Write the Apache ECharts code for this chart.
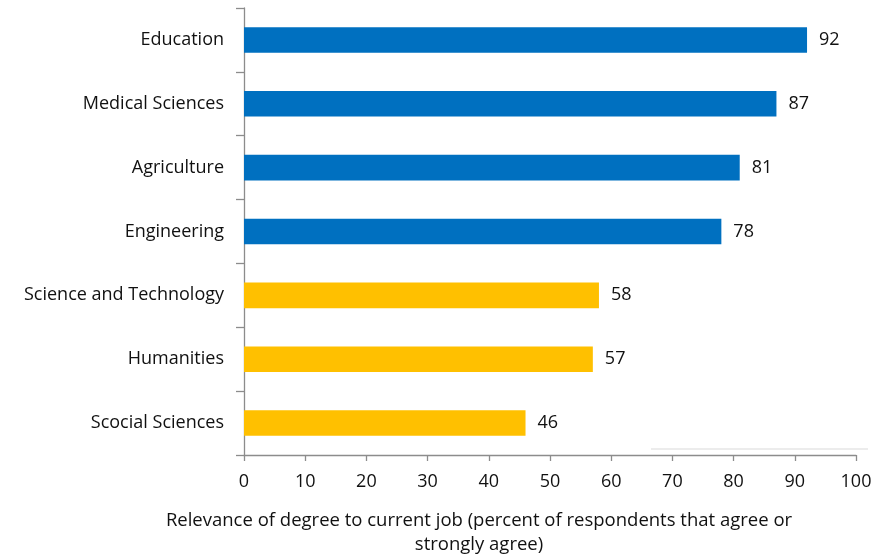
<!DOCTYPE html>
<html>
<head>
<meta charset="utf-8">
<script src="https://cdn.jsdelivr.net/npm/echarts@6/dist/echarts.min.js"></script>
<style>
  html, body { margin: 0; padding: 0; background: #fff; }
  #chart { width: 894px; height: 556px; }
</style>
</head>
<body>
<div id="chart"></div>
<script>
// Fields of study, listed bottom to top as drawn on the category axis
const fields = ['Scocial Sciences', 'Humanities', 'Science and Technology', 'Engineering', 'Agriculture', 'Medical Sciences', 'Education'];
// Percent of respondents that agree or strongly agree
const relevance = [46, 57, 58, 78, 81, 87, 92];
// Group per field: 'high' fields drawn in blue, 'low' in amber
const groups = ['low', 'low', 'low', 'high', 'high', 'high', 'high'];
const xTicks = [0, 10, 20, 30, 40, 50, 60, 70, 80, 90, 100];

const groupColors = { high: '#0070C0', low: '#FFC000' };
const font = '"Open Sans", Lato, sans-serif';

const chart = echarts.init(document.getElementById('chart'));
chart.setOption({
  animation: false,
  backgroundColor: '#ffffff',
  grid: { left: 244, right: 38, top: 8, bottom: 101, containLabel: false },
  xAxis: {
    type: 'value',
    min: xTicks[0],
    max: xTicks[xTicks.length - 1],
    interval: 10,
    axisLine: { show: true, lineStyle: { color: '#8c8c8c', width: 1.3 } },
    axisTick: { show: true, length: 6, lineStyle: { color: '#8c8c8c', width: 1.3 } },
    splitLine: { show: false },
    axisLabel: { color: '#111', fontFamily: font, fontSize: 18, margin: 18 }
  },
  yAxis: {
    type: 'category',
    data: fields,
    axisLine: { show: true, lineStyle: { color: '#8c8c8c', width: 1.3 } },
    axisTick: { show: true, length: 8, alignWithLabel: false, lineStyle: { color: '#8c8c8c', width: 1.3 } },
    axisLabel: { color: '#111', fontFamily: font, fontSize: 18, margin: 20, padding: [6, 0, 0, 0] }
  },
  series: [{
    type: 'bar',
    barWidth: '40%',
    data: relevance.map((v, i) => ({ value: v, itemStyle: { color: groupColors[groups[i]] } })),
    label: {
      show: true,
      position: 'right',
      distance: 12,
      color: '#111',
      fontFamily: font,
      fontSize: 18,
      padding: [7, 0, 0, 0]
    }
  }],
  graphic: [
    {
      type: 'line',
      shape: { x1: 651, y1: 449, x2: 868, y2: 449 },
      style: { stroke: '#e6e6e6', lineWidth: 1.5 }
    },
    {
      type: 'text',
      x: 479,
      y: 509,
      style: {
        text: 'Relevance of degree to current job (percent of respondents that agree or\nstrongly agree)',
        fontFamily: font,
        fontSize: 18.5,
        lineHeight: 24,
        fill: '#111',
        align: 'center',
        verticalAlign: 'top'
      }
    }
  ]
});
</script>
</body>
</html>
